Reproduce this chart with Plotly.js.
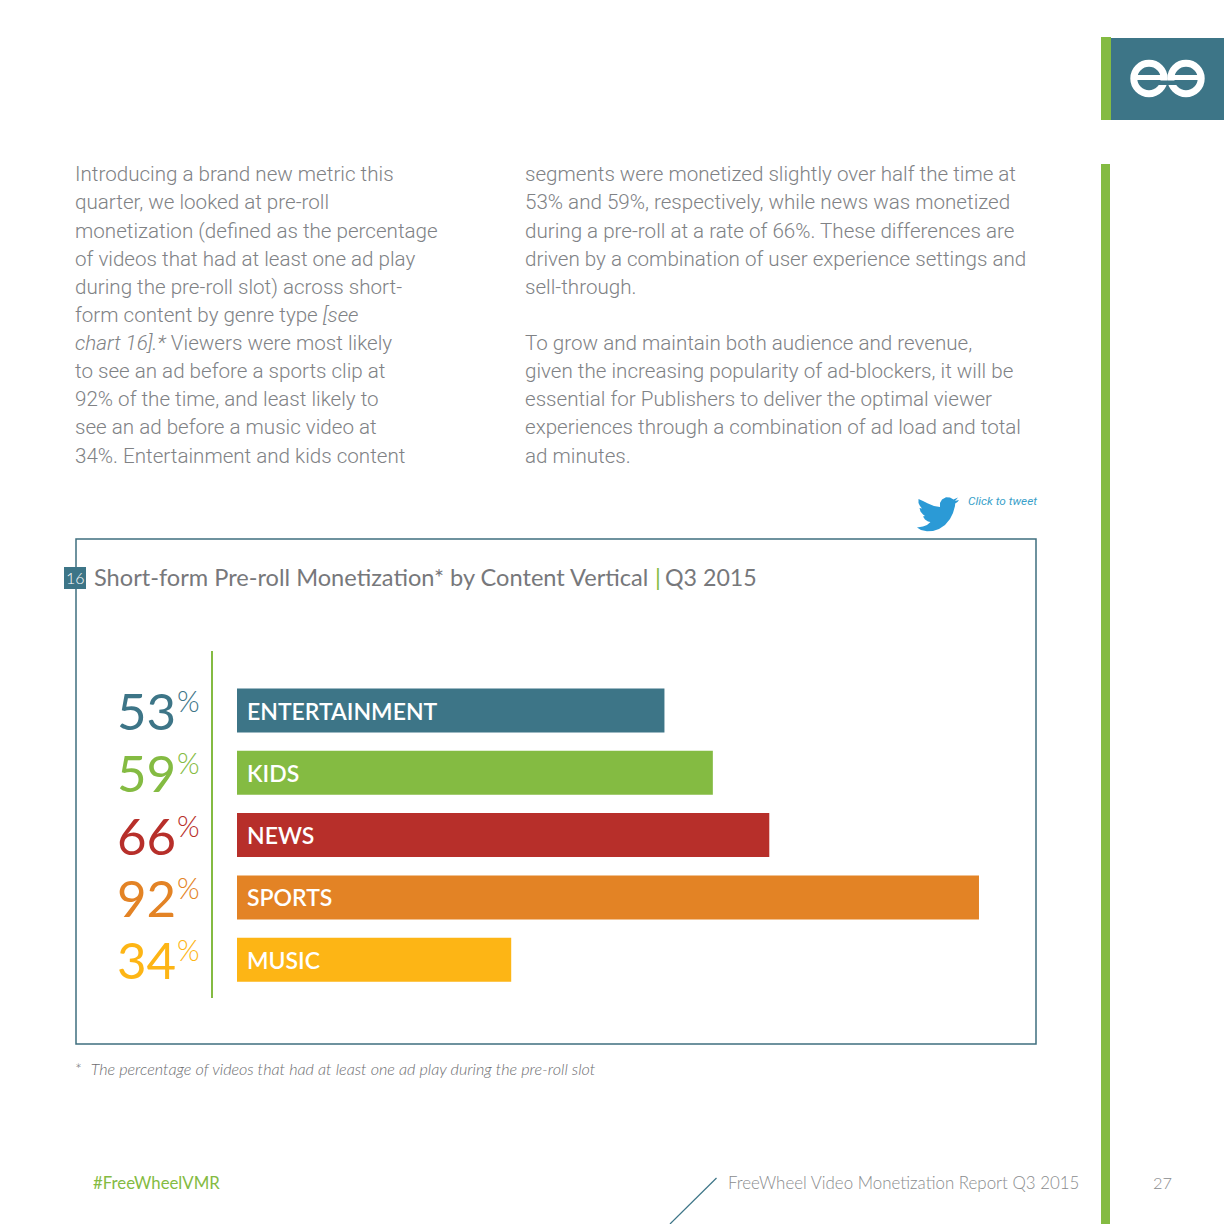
<!DOCTYPE html>
<html>
<head>
<meta charset="utf-8">
<script src="https://cdn.plot.ly/plotly-3.0.1.min.js"></script>
<style>
html,body{margin:0;padding:0;background:#fff;}
#chart{width:1224px;height:1224px;}
</style>
</head>
<body>
<div id="chart"></div>
<script>
const categories = ["ENTERTAINMENT","KIDS","NEWS","SPORTS","MUSIC"];
const values = [53,59,66,92,34];
const barColors = ["#3d7587","#84bb42","#b72f2a","#e38325","#fdb515"];

const leftColumn = [
 "Introducing a brand new metric this",
 "quarter, we looked at pre-roll",
 "monetization (defined as the percentage",
 "of videos that had at least one ad play",
 "during the pre-roll slot) across short-",
 "form content by genre type <i>[see</i>",
 "<i>chart 16].*</i> Viewers were most likely",
 "to see an ad before a sports clip at",
 "92% of the time, and least likely to",
 "see an ad before a music video at",
 "34%. Entertainment and kids content"
];
const rightColumn = [
 "segments were monetized slightly over half the time at",
 "53% and 59%, respectively, while news was monetized",
 "during a pre-roll at a rate of 66%. These differences are",
 "driven by a combination of user experience settings and",
 "sell-through.",
 "",
 "To grow and maintain both audience and revenue,",
 "given the increasing popularity of ad-blockers, it will be",
 "essential for Publishers to deliver the optimal viewer",
 "experiences through a combination of ad load and total",
 "ad minutes."
];
const chartTitle = "Short-form Pre-roll Monetization* by Content Vertical";
const chartPeriod = "Q3 2015";
const chartNumber = "16";
const footnote = "*  <i>The percentage of videos that had at least one ad play during the pre-roll slot</i>";
const hashtag = "#FreeWheelVMR";
const footerText = "FreeWheel Video Monetization Report Q3 2015";
const pageNumber = "27";
const tweetText = "Click to tweet";

const S = 1224;
const TEAL = "#3d7587", GREEN = "#84bb42";
const px = v => v / S;
const py = v => 1 - v / S;

// Axes span the page so that bars sit exactly where the page layout wants them.
const unit = 8.065, rowH = 62.3, zeroX = 237, firstRowY = 710.5;
const xRange = [-zeroX / unit, (S - zeroX) / unit];
const yRange = [(S - firstRowY) / rowH, -firstRowY / rowH];

function txt(x, y, text, size, color, opts) {
  opts = opts || {};
  return {
    xref: "paper", yref: "paper", x: px(x), y: py(y), text: text, showarrow: false,
    xanchor: opts.anchor || "left", yanchor: "middle", align: opts.anchor || "left",
    borderpad: 0, borderwidth: 0,
    font: {family: opts.family || "Roboto", size: size, color: color, weight: opts.weight || 300}
  };
}
const annotations = [];
const bodyColor = "#808285";
leftColumn.forEach((t, i) => annotations.push(txt(75, 174.3 + i * 28.13, t, 20.6, bodyColor)));
rightColumn.forEach((t, i) => { if (t) annotations.push(txt(525, 174.3 + i * 28.13, t, 20.6, bodyColor)); });

annotations.push(txt(968, 500.8, "<i>" + tweetText + "</i>", 11.8, "#3a9fc9", {weight: 400}));
annotations.push(txt(94, 576.8, chartTitle, 23.6, "#77787b", {family: "Lato", weight: 400}));
annotations.push(txt(655, 576.8, "|", 23.6, GREEN, {family: "Lato", weight: 400}));
annotations.push(txt(665, 576.8, chartPeriod, 23.2, "#77787b", {family: "Lato", weight: 400}));
annotations.push(txt(75, 577, chartNumber, 16, "#ffffff", {anchor: "center", family: "Lato", weight: 300}));
annotations.push(txt(75, 1068.8, footnote, 16.2, "#6d6e71", {family: "Lato", weight: 300}));
annotations.push(txt(93, 1182.6, hashtag, 16.8, GREEN, {family: "Lato", weight: 400}));
annotations.push(txt(728, 1182.6, footerText, 16.9, "#8a8c8e", {family: "Lato", weight: 300}));
annotations.push(txt(1153, 1182.6, pageNumber, 16.4, "#8a8c8e", {family: "Lato", weight: 300}));

categories.forEach((c, i) => {
  annotations.push({xref: "x", yref: "y", x: 8.5 / unit, y: c, text: c, showarrow: false,
    xanchor: "left", yanchor: "middle", borderpad: 0,
    font: {family: "Lato", size: 23, color: "#ffffff", weight: 600}});
  annotations.push({xref: "paper", yref: "y", x: px(177), y: c, yshift: 0, text: String(values[i]), showarrow: false,
    xanchor: "right", yanchor: "middle", borderpad: 0,
    font: {family: "Lato", size: 51, color: barColors[i], weight: 400}});
  annotations.push({xref: "paper", yref: "y", x: px(176.5), y: c, yshift: 10, text: "%", showarrow: false,
    xanchor: "left", yanchor: "middle", borderpad: 0,
    font: {family: "Lato", size: 29, color: barColors[i], weight: 300}});
});

function rect(x0, y0, x1, y1, fill, line) {
  return {type: "rect", xref: "paper", yref: "paper", x0: px(x0), x1: px(x1), y0: py(y0), y1: py(y1),
    fillcolor: fill || "rgba(0,0,0,0)", line: line || {width: 0}};
}
function seg(x0, y0, x1, y1, color, w) {
  return {type: "line", xref: "paper", yref: "paper", x0: px(x0), x1: px(x1), y0: py(y0), y1: py(y1),
    line: {color: color, width: w}};
}
function ring(cx, cy, r, color, w) {
  return {type: "circle", xref: "paper", yref: "paper", x0: px(cx - r), x1: px(cx + r), y0: py(cy + r), y1: py(cy - r),
    fillcolor: "rgba(0,0,0,0)", line: {color: color, width: w}};
}
function poly(points, fill) {
  const d = points.map((p, i) => (i ? "L" : "M") + px(p[0]).toFixed(5) + "," + py(p[1]).toFixed(5)).join(" ") + " Z";
  return {type: "path", xref: "paper", yref: "paper", path: d, fillcolor: fill, line: {width: 0}};
}
const bird = [[959,500],[955,501],[958,497.5],[953.5,499.5],[950,497.5],[946,497.3],[942,499.5],[940,503],[940,507],
 [934,506],[928,503.5],[923,501],[918.5,499],[918.5,503],[920,506],[922,508.5],[919.5,508],[920.5,511.5],[923,514.5],[925,516],
 [923,516.5],[925,519.5],[928,521.5],[930.5,522],[927,525],[923,526.5],[917,527.5],[921,530],[927,531.3],[933,531],[939,529],
 [945,525],[950,519],[953,513],[955,506],[955.2,503.5],[957.5,502]];

const shapes = [
  rect(1101, 37, 1111, 120, GREEN),
  rect(1111, 38, 1224, 120, TEAL),
  rect(1101, 164, 1110, 1224, GREEN),
  rect(76, 539, 1036, 1044, "rgba(0,0,0,0)", {color: "#3f6f7f", width: 1.5}),
  rect(64, 567, 86, 589, TEAL),
  seg(212, 651, 212, 998, GREEN, 2),
  seg(716.5, 1178, 670, 1224, "#3d7587", 1.2),
  // logo
  ring(1149, 78.5, 15.2, "#ffffff", 7),
  ring(1186, 78.5, 15.2, "#ffffff", 7),
  seg(1134, 77.5, 1164, 77.5, "#ffffff", 5),
  seg(1171, 77.5, 1201, 77.5, "#ffffff", 5),
  rect(1158, 80.5, 1177, 85, TEAL),
  // bird
  poly(bird, "#2b9ad6")
];

const trace = {
  type: "bar", orientation: "h", y: categories, x: values,
  marker: {color: barColors, line: {width: 0}},
  hoverinfo: "skip", showlegend: false, textposition: "none"
};
const layout = {
  width: S, height: S, margin: {l: 0, r: 0, t: 0, b: 0, pad: 0},
  paper_bgcolor: "#ffffff", plot_bgcolor: "rgba(0,0,0,0)",
  bargap: 0.294, showlegend: false, hovermode: false,
  xaxis: {range: xRange, visible: false, fixedrange: true, domain: [0, 1]},
  yaxis: {type: "category", categoryorder: "array", categoryarray: categories, range: yRange,
          visible: false, fixedrange: true, domain: [0, 1]},
  shapes: shapes, annotations: annotations
};
Plotly.newPlot("chart", [trace], layout, {displayModeBar: false, staticPlot: true, responsive: false});
</script>
</body>
</html>
